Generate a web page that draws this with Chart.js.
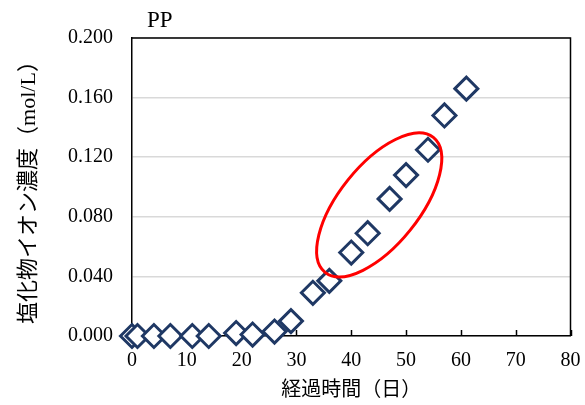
<!DOCTYPE html>
<html lang="ja">
<head>
    <meta charset="UTF-8">
    <title>PP 塩化物イオン濃度</title>
    <style>
        body {
            margin: 0;
            padding: 0;
            background: #fff;
        }

        #chart-box {
            position: relative;
            width: 585px;
            height: 405px;
        }
    </style>
</head>
<body>
    <div id="chart-box">
        <canvas id="myChart"></canvas>
    </div>

    <script src="https://cdn.jsdelivr.net/npm/chart.js"></script>
    <script>
const chartTitle = 'PP';
const xTitle = '経過時間（日）';
const yTitle = '塩化物イオン濃度（mol/L）';

// elapsed days and chloride concentration (mol/L)
const days = [0, 1, 4, 7, 11, 14, 19, 22, 26, 29, 33, 36, 40, 43, 47, 50, 54, 57, 61];
const chloride = [0.000, 0.000, 0.000, 0.000, 0.000, 0.000, 0.002, 0.001, 0.003, 0.010,
                  0.029, 0.037, 0.056, 0.069, 0.092, 0.108, 0.125, 0.148, 0.166];

const xTicks = [0, 10, 20, 30, 40, 50, 60, 70, 80];
const yTicks = [0, 0.04, 0.08, 0.12, 0.16, 0.2];

// red ring drawn round the highlighted points
const ringCenter = { day: 45.1, value: 0.088 };

const serif = "'Liberation Serif', 'Times New Roman', 'Noto Sans CJK JP', serif";
const navy = '#1f3864';

const points = days.map((d, i) => ({ x: d, y: chloride[i] }));

const framePlugin = {
    id: 'frame',
    beforeDatasetsDraw(chart) {
        const { ctx, chartArea: a, scales } = chart;
        ctx.save();
        ctx.strokeStyle = '#000';
        ctx.lineWidth = 1.5;
        ctx.beginPath();
        ctx.moveTo(a.left, a.top);
        ctx.lineTo(a.right, a.top);
        ctx.lineTo(a.right, a.bottom);
        ctx.stroke();
        // small inward tick marks on the x axis
        xTicks.forEach(t => {
            const px = Math.round(scales.x.getPixelForValue(t)) + 0.5;
            ctx.beginPath();
            ctx.moveTo(px, a.bottom);
            ctx.lineTo(px, a.bottom - 6);
            ctx.stroke();
        });
        ctx.restore();
    },
    afterDatasetsDraw(chart) {
        const { ctx, chartArea: a, scales } = chart;
        ctx.save();
        ctx.strokeStyle = '#ff0000';
        ctx.lineWidth = 3;
        ctx.beginPath();
        ctx.ellipse(scales.x.getPixelForValue(ringCenter.day), scales.y.getPixelForValue(ringCenter.value),
                    86.5, 40, -51.25 * Math.PI / 180, 0, Math.PI * 2);
        ctx.stroke();

        ctx.fillStyle = '#000';
        ctx.font = '23px ' + serif;
        ctx.textBaseline = 'alphabetic';
        ctx.textAlign = 'left';
        ctx.fillText(chartTitle, a.left + 15, 27);
        ctx.restore();
    }
};

const ctx = document.getElementById('myChart').getContext('2d');
const myChart = new Chart(ctx, {
    type: 'scatter',
    data: {
        datasets: [{
            data: points,
            pointStyle: 'rectRot',
            pointRadius: 11.5,
            pointHoverRadius: 11.5,
            pointBorderWidth: 3,
            borderColor: navy,
            backgroundColor: '#fff',
            clip: false
        }]
    },
    options: {
        responsive: true,
        maintainAspectRatio: false,
        animation: false,
        layout: {
            padding: { top: 38, right: 12, bottom: 0, left: 0 }
        },
        plugins: {
            legend: { display: false },
            tooltip: { enabled: false }
        },
        scales: {
            x: {
                type: 'linear',
                min: 0,
                max: 80,
                afterFit: scale => {
                    scale.height = 69;
                    scale.paddingLeft = 0;
                    scale.paddingRight = 0;
                },
                afterBuildTicks: scale => { scale.ticks = xTicks.map(v => ({ value: v })); },
                grid: { display: false, drawTicks: false },
                border: { display: true, color: '#000', width: 1.5 },
                ticks: {
                    padding: 13,
                    color: '#000',
                    font: { family: serif, size: 20 }
                },
                title: {
                    display: true,
                    text: xTitle,
                    color: '#000',
                    padding: { top: 0, bottom: 2 },
                    font: { family: serif, size: 20 }
                }
            },
            y: {
                min: 0,
                max: 0.2,
                afterFit: scale => { scale.width = 132; },
                afterBuildTicks: scale => { scale.ticks = yTicks.map(v => ({ value: v })); },
                grid: { color: '#d9d9d9', lineWidth: 1.5, drawTicks: false },
                border: { display: true, color: '#000', width: 1.5 },
                ticks: {
                    padding: 19,
                    color: '#000',
                    font: { family: serif, size: 20 },
                    callback: v => v.toFixed(3)
                },
                title: {
                    display: true,
                    text: yTitle,
                    color: '#000',
                    padding: { top: 16, bottom: 0 },
                    font: { family: serif, size: 22 }
                }
            }
        }
    },
    plugins: [framePlugin]
});
    </script>
</body>
</html>
